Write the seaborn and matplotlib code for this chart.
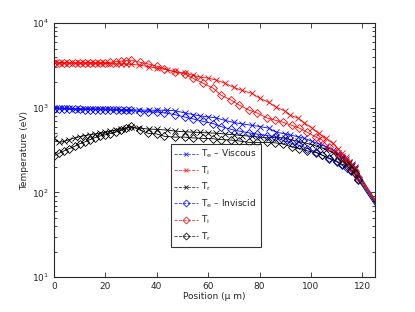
import numpy as np
import pandas as pd
import seaborn as sns
import matplotlib
matplotlib.use('Agg')
import matplotlib.pyplot as plt
from matplotlib.lines import Line2D
from matplotlib.ticker import LogLocator, NullFormatter

# Viscous run (x markers)
x_vis = [0, 2, 4, 6, 8, 10, 12, 14, 16, 18, 20, 22, 24, 26, 28, 30,
         33, 37, 40, 44, 47, 51, 54, 57, 60, 63, 66.5, 70, 73, 77, 80, 83.5,
         86.5, 90, 92, 95, 97.5, 100.5, 103, 106, 108.5, 110.5, 112, 113.5,
         115, 116, 117, 130]
te_vis = [990, 985, 980, 980, 975, 975, 970, 970, 965, 965, 960, 960, 955, 950, 950, 945,
          940, 935, 935, 935, 920, 870, 830, 800, 780, 760, 710, 670, 645, 620, 600, 575,
          515, 490, 475, 455, 435, 400, 375, 345, 315, 290, 270, 250,
          230, 215, 200, 45]
ti_vis = [3450, 3420, 3400, 3400, 3380, 3400, 3380, 3370, 3350, 3350, 3340, 3330, 3300, 3300, 3280, 3250,
          3200, 3050, 2950, 2800, 2680, 2570, 2420, 2300, 2240, 2130, 1950, 1740, 1610, 1480, 1300, 1160,
          1015, 910, 815, 755, 660, 575, 500, 435, 380, 330, 290, 260,
          230, 210, 195, 48]
tr_vis = [435, 390, 400, 420, 440, 455, 470, 480, 490, 500, 515, 530, 545, 560, 575, 590,
          575, 560, 555, 545, 530, 520, 515, 510, 505, 500, 490, 480, 470, 460, 450, 440,
          450, 435, 420, 400, 385, 365, 345, 320, 295, 275, 255, 235,
          220, 205, 190, 42]

# Inviscid run (diamond markers)
x_inv = [0, 2, 4, 6, 8, 10, 12, 14, 16, 18, 20, 22, 24, 26, 28, 30,
         33.5, 36.5, 40, 43, 47, 51, 54, 58, 62, 65, 69, 72, 76, 79, 83, 86,
         89, 92.5, 95.5, 98.5, 102, 104.5, 107, 110, 112, 114, 115.7, 117,
         118.4, 130]
te_inv = [970, 965, 960, 960, 955, 955, 950, 950, 945, 945, 940, 940, 935, 935, 930, 930,
          900, 895, 890, 870, 830, 775, 740, 690, 650, 600, 555, 530, 505, 490, 470, 450,
          415, 380, 360, 330, 300, 275, 250, 230, 210, 195, 180, 170,
          145, 45]
ti_inv = [3350, 3350, 3380, 3350, 3370, 3350, 3380, 3400, 3380, 3400, 3420, 3450, 3500, 3550, 3600, 3650,
          3450, 3300, 3100, 2900, 2650, 2500, 2240, 1950, 1700, 1410, 1230, 1080, 935, 870, 755, 715,
          675, 620, 575, 515, 450, 415, 340, 300, 260, 230, 195, 180,
          150, 48]
tr_inv = [270, 290, 310, 330, 350, 375, 395, 420, 445, 465, 480, 495, 515, 540, 570, 605,
          545, 500, 490, 460, 450, 450, 440, 435, 430, 420, 415, 405, 390, 390, 390, 385,
          375, 345, 330, 310, 295, 275, 255, 235, 215, 205, 185, 170,
          140, 42]

labels = [r'T$_{\rm e}$ – Viscous', r'T$_{\rm i}$', r'T$_{\rm r}$',
          r'T$_{\rm e}$ – Inviscid', r'T$_{\rm i}$', r'T$_{\rm r}$']
colors = ['#0000ff', '#ff0000', '#000000']

sns.set_style('ticks')
plt.rcParams['font.family'] = ['DejaVu Sans']

fig = plt.figure(figsize=(4.15, 3.12), dpi=100)
ax = fig.add_axes([0.130, 0.112, 0.774, 0.814])

runs = [(x_vis, [te_vis, ti_vis, tr_vis], 'x', 3.8, 0.6),
        (x_inv, [te_inv, ti_inv, tr_inv], 'D', 4.4, 0.6)]
for xs, series, mk, ms, mew in runs:
    for ys, c in zip(series, colors):
        df = pd.DataFrame({'pos': xs, 'temp': ys})
        sns.lineplot(data=df, x='pos', y='temp', ax=ax, color=c, lw=0.6,
                     marker=mk, markersize=ms, markerfacecolor='none',
                     markeredgecolor=c, markeredgewidth=mew, sort=False)

ax.set_yscale('log')
ax.set_xlim(0, 125)
ax.set_ylim(10, 1e4)
ax.set_xticks([0, 20, 40, 60, 80, 100, 120])
ax.yaxis.set_minor_locator(LogLocator(base=10, subs=np.arange(2, 10)))
ax.yaxis.set_minor_formatter(NullFormatter())
ax.tick_params(which='both', direction='in', top=True, right=True,
               labelsize=6.5, width=0.6)
ax.tick_params(which='major', length=3.5)
ax.tick_params(which='minor', length=2)
for s in ax.spines.values():
    s.set_linewidth(0.8)
ax.set_xlabel('Position (μ m)', fontsize=6.5, labelpad=1)
ax.set_ylabel('Temperature (eV)', fontsize=6.5, labelpad=2)

handles = []
for mk, ms in [('x', 3.5), ('D', 3.5)]:
    for c in colors:
        handles.append(Line2D([], [], color=c, ls='--', lw=0.6, alpha=0.8,
                              marker=mk, markersize=ms, markerfacecolor='none',
                              markeredgecolor=c, markeredgewidth=0.7))
leg = ax.legend(handles, labels, loc='lower left',
                bbox_to_anchor=(0.349, 0.102, 0.31, 0.386), mode='expand',
                fontsize=6.5, frameon=True, fancybox=False, handlelength=2.6,
                handletextpad=0.4, borderpad=0.4, labelspacing=0.45)
leg.get_frame().set_edgecolor('black')
leg.get_frame().set_linewidth(0.8)

fig.savefig('out.png', dpi=100)
